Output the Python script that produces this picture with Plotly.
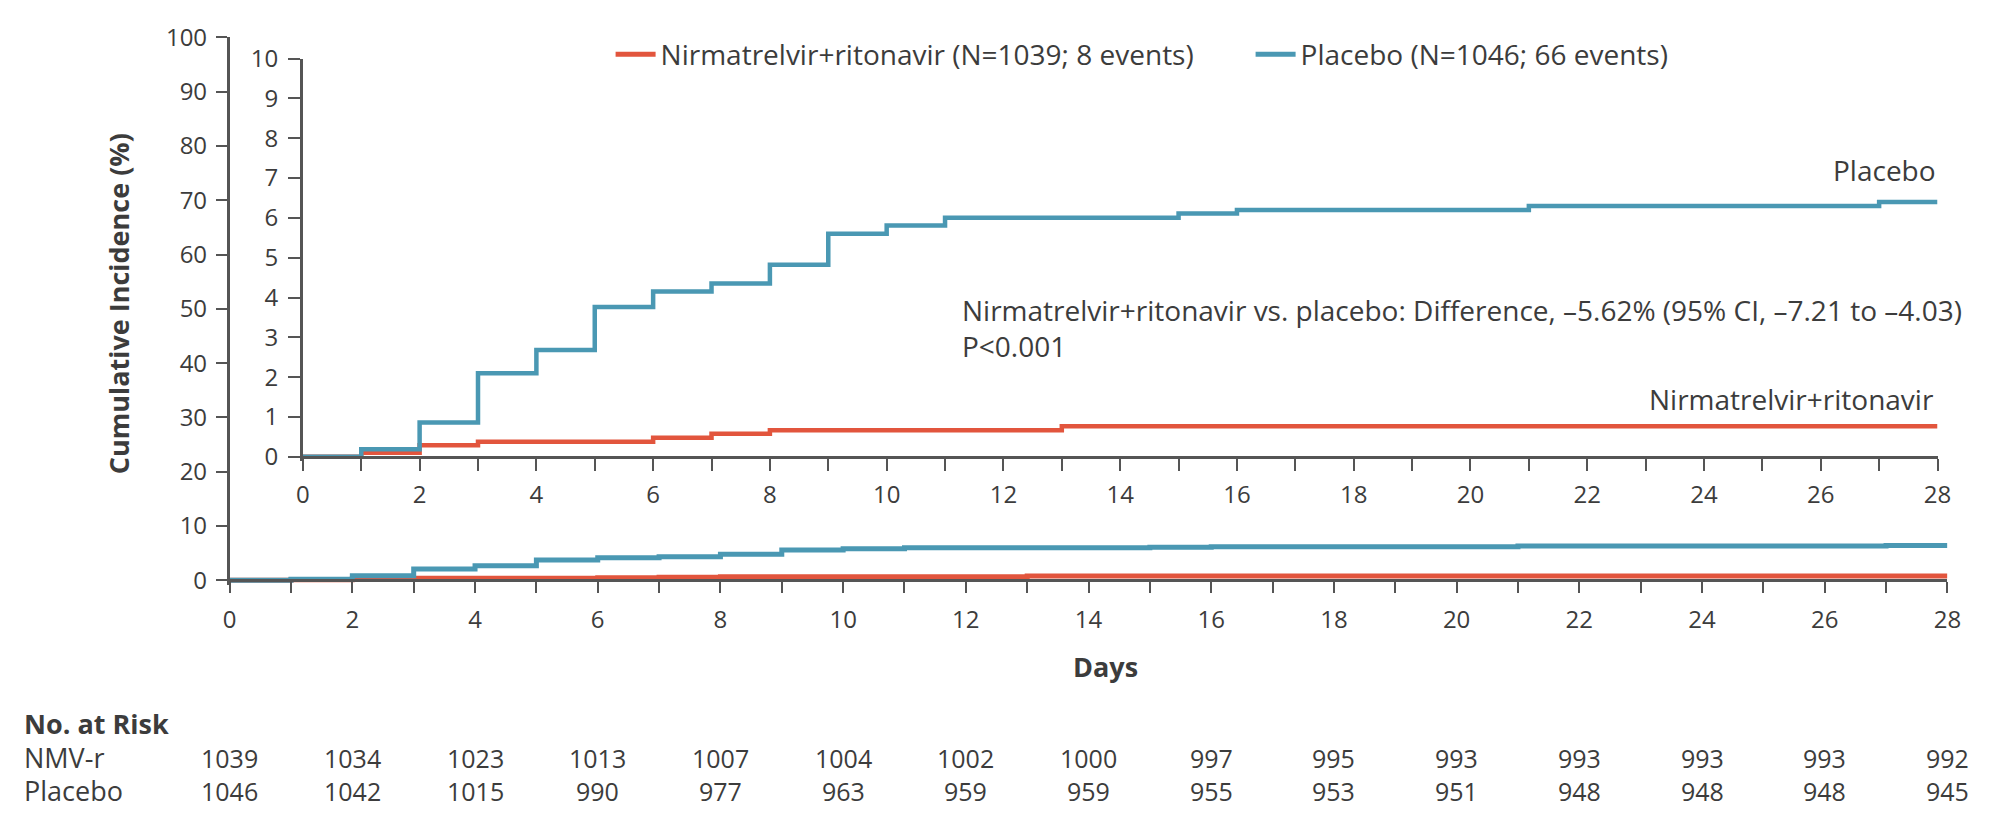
import plotly.graph_objects as go

# ---------------- data ----------------
days_ticks = list(range(0, 29))
risk_days = list(range(0, 29, 2))

placebo_days = [0, 1, 2, 3, 4, 5, 6, 7, 8, 9, 10, 11, 15, 16, 21, 27, 28]
placebo_pct = [0, 0.19, 0.86, 2.10, 2.68, 3.76, 4.15, 4.35, 4.82, 5.60, 5.81, 6.00, 6.11, 6.20, 6.30, 6.40, 6.40]

nmv_days = [0, 1, 2, 3, 6, 7, 8, 13, 28]
nmv_pct = [0, 0.10, 0.29, 0.38, 0.48, 0.58, 0.67, 0.77, 0.77]

risk_nmv = [1039, 1034, 1023, 1013, 1007, 1004, 1002, 1000, 997, 995, 993, 993, 993, 993, 992]
risk_placebo = [1046, 1042, 1015, 990, 977, 963, 959, 959, 955, 953, 951, 948, 948, 948, 945]

main_yticks = list(range(0, 101, 10))
inset_yticks = list(range(0, 11, 1))

legend_nmv = "Nirmatrelvir+ritonavir (N=1039; 8 events)"
legend_pbo = "Placebo (N=1046; 66 events)"
diff_text = "Nirmatrelvir+ritonavir vs. placebo: Difference, \u20135.62% (95% CI, \u20137.21 to \u20134.03)"
p_text = "P<0.001"

# ---------------- style ----------------
W, H = 2000, 817
RED = "#e2553d"
BLUE = "#4a98b3"
TXT = "#3c3c3c"
AX = "#555555"
FONT = "Open Sans"
TXT_SIZE = 28
TICK_SIZE = 24


def px(x):
    return x / W


def py(y):
    return 1 - y / H


fig = go.Figure()

# main (0-100) curves
fig.add_trace(go.Scatter(x=nmv_days, y=nmv_pct, mode="lines", line=dict(color=RED, width=5, shape="hv"),
                         name=legend_nmv, xaxis="x", yaxis="y", legendrank=1))
fig.add_trace(go.Scatter(x=placebo_days, y=placebo_pct, mode="lines", line=dict(color=BLUE, width=5, shape="hv"),
                         name=legend_pbo, xaxis="x", yaxis="y", legendrank=2))
# inset (0-10) curves
fig.add_trace(go.Scatter(x=nmv_days, y=nmv_pct, mode="lines", line=dict(color=RED, width=4.5, shape="hv"),
                         showlegend=False, xaxis="x2", yaxis="y2"))
fig.add_trace(go.Scatter(x=placebo_days, y=placebo_pct, mode="lines", line=dict(color=BLUE, width=4.5, shape="hv"),
                         showlegend=False, xaxis="x2", yaxis="y2"))

xticktext = [str(d) if d % 2 == 0 else "" for d in days_ticks]

common_axis = dict(showgrid=False, zeroline=False, showline=True, linecolor=AX, linewidth=2.5,
                   ticks="outside", tickcolor=AX, tickwidth=2,
                   tickfont=dict(family=FONT, size=TICK_SIZE, color=TXT))

# axes geometry (screen pixels)
m_x0, m_x28 = 225, 1961
m_y0, m_y100 = 583, 20
m_pu = (m_y0 - m_y100) / 100
m_ymin = -0.8
i_x0, i_x28 = 299, 1951
i_y0, i_y10 = 455, 42
i_pu = (i_y0 - i_y10) / 10
i_ymin = -0.1

fig.update_layout(
    width=W, height=H,
    margin=dict(l=0, r=0, t=0, b=0),
    paper_bgcolor="white", plot_bgcolor="rgba(0,0,0,0)",
    font=dict(family=FONT, color=TXT),
    xaxis=dict(common_axis, domain=[px(m_x0), px(m_x28)], range=[0, 28], anchor="free",
               position=py(m_y0), tickmode="array", tickvals=days_ticks, ticktext=xticktext,
               ticklen=11, ticklabelstandoff=6),
    yaxis=dict(common_axis, domain=[py(m_y0 - m_ymin * m_pu), py(m_y100)], range=[m_ymin, 100],
               anchor="x", tickmode="array", tickvals=main_yticks, ticklen=11, ticklabelstandoff=4),
    xaxis2=dict(common_axis, domain=[px(i_x0), px(i_x28)], range=[0, 28], anchor="free",
                position=py(i_y0), tickmode="array", tickvals=days_ticks, ticktext=xticktext,
                ticklen=12, ticklabelstandoff=4),
    yaxis2=dict(common_axis, domain=[py(i_y0 - i_ymin * i_pu), py(i_y10)], range=[i_ymin, 10],
                anchor="x2", tickmode="array", tickvals=inset_yticks, ticklen=12, ticklabelstandoff=5),
    legend=dict(orientation="h", x=px(610), xanchor="left", y=py(38), yanchor="middle",
                font=dict(family=FONT, size=TXT_SIZE, color=TXT), bgcolor="rgba(0,0,0,0)",
                entrywidth=585, entrywidthmode="pixels", itemwidth=40),
    showlegend=True,
)

ann = []


def add_text(text, xs, ys, anchor="center", size=TXT_SIZE, angle=0):
    ann.append(dict(text=text, x=px(xs), y=py(ys), xref="paper", yref="paper", xanchor=anchor,
                    yanchor="middle", textangle=angle, showarrow=False,
                    font=dict(family=FONT, size=size, color=TXT)))


add_text("<b>Cumulative Incidence (%)</b>", 113, 296, size=27, angle=-90)
add_text("<b>Days</b>", 1110, 672, size=27)
add_text("Placebo", 1951, 158, anchor="right")
add_text("Nirmatrelvir+ritonavir", 1949, 395, anchor="right")
add_text(diff_text, 963, 303, anchor="left")
add_text(p_text, 963, 340, anchor="left")
add_text("<b>No. at Risk</b>", 15, 731, anchor="left", size=27)
add_text("NMV-r", 15, 767, anchor="left", size=27)
add_text("Placebo", 15, 801, anchor="left", size=27)
for d, a, b in zip(risk_days, risk_nmv, risk_placebo):
    ann.append(dict(text=str(a), x=d, y=py(767), xref="x", yref="paper", showarrow=False,
                    yanchor="middle", font=dict(family=FONT, size=25, color=TXT)))
    ann.append(dict(text=str(b), x=d, y=py(801), xref="x", yref="paper", showarrow=False,
                    yanchor="middle", font=dict(family=FONT, size=25, color=TXT)))
fig.update_layout(annotations=ann)

fig.write_html("out.html")
